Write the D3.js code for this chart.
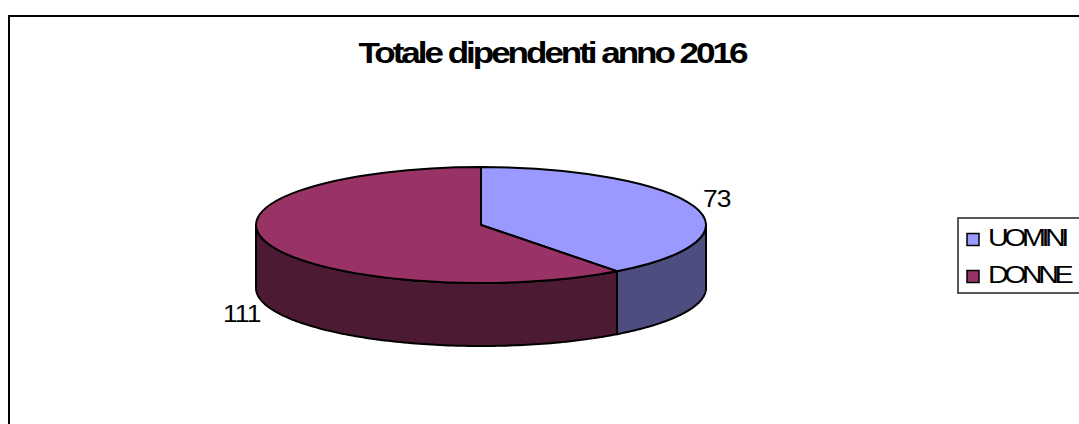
<!DOCTYPE html>
<html>
<head>
<meta charset="utf-8">
<script src="https://cdn.jsdelivr.net/npm/d3@7"></script>
<style>
  html, body { margin: 0; padding: 0; background: #fff; overflow: hidden; }
  text { font-family: "Liberation Sans", Arial, sans-serif; fill: #000; }
</style>
</head>
<body>
<div id="chart"></div>
<script>
const chartTitle = 'Totale dipendenti anno 2016';
const categories = ['UOMINI', 'DONNE'];
const values = [73, 111];
const topColors = ['#9999ff', '#993366'];
const sideColors = ['#4d4d80', '#4d1a33'];

const width = 1079, height = 424;
const cx = 481, cy = 225, rx = 225, ry = 58, depth = 63;

const svg = d3.select('#chart').append('svg')
  .attr('width', width)
  .attr('height', height)
  .style('display', 'block');

// Chart frame, runs off the right and bottom of the picture
svg.append('rect')
  .attr('x', 9)
  .attr('y', 16)
  .attr('width', width + 20)
  .attr('height', height + 20)
  .style('fill', '#fff')
  .style('stroke', '#000')
  .style('stroke-width', 2);

// The original text is stretched sideways and tightly spaced
svg.append('text')
  .attr('transform', 'translate(552,63) scale(1.17,1)')
  .style('text-anchor', 'middle')
  .style('font-size', '30px')
  .style('font-weight', 'bold')
  .style('letter-spacing', '-2.6px')
  .text(chartTitle);

const pie = d3.pie().sort(null)
  .startAngle(0)
  .endAngle(2 * Math.PI);
const slices = pie(values);

// point on the ellipse, angle measured clockwise from the top
const px = a => rx * Math.sin(a);
const py = a => -ry * Math.cos(a);

const line = d3.line().x(d => d[0]).y(d => d[1]);

const plot = svg.append('g').attr('transform', `translate(${cx},${cy})`);

// Outer wall: only the part of each slice facing the viewer
slices.forEach((s, i) => {
  const a0 = Math.max(s.startAngle, Math.PI / 2);
  const a1 = Math.min(s.endAngle, 3 * Math.PI / 2);
  if (a1 <= a0) return;
  const steps = d3.range(0, 121).map(k => a0 + (a1 - a0) * k / 120);
  const pts = steps.map(a => [px(a), py(a)])
    .concat(steps.slice().reverse().map(a => [px(a), py(a) + depth]));
  plot.append('path')
    .attr('d', line(pts) + 'Z')
    .style('fill', sideColors[i])
    .style('stroke', '#000')
    .style('stroke-width', 2)
    .style('stroke-linejoin', 'round');
});

// Top face, a normal d3 arc squashed into an ellipse
const arc = d3.arc().innerRadius(0).outerRadius(rx);
plot.append('g')
  .attr('transform', `scale(1,${ry / rx})`)
  .selectAll('path')
  .data(slices)
  .enter().append('path')
  .attr('d', arc)
  .attr('vector-effect', 'non-scaling-stroke')
  .style('fill', (d, i) => topColors[i])
  .style('stroke', '#000')
  .style('stroke-width', 2)
  .style('stroke-linejoin', 'round');

// Value labels
svg.append('text')
  .attr('transform', 'translate(703,207) scale(1.1,1)')
  .style('font-size', '24px')
  .style('letter-spacing', '-0.8px')
  .text(values[0]);

svg.append('text')
  .attr('transform', 'translate(223,322) scale(1.1,1)')
  .style('font-size', '24px')
  .style('letter-spacing', '-0.8px')
  .text(values[1]);

// Legend
const legend = svg.append('g');
legend.append('rect')
  .attr('x', 958)
  .attr('y', 218)
  .attr('width', 140)
  .attr('height', 75)
  .style('fill', '#fff')
  .style('stroke', '#222')
  .style('stroke-width', 1.5);

const legendY = d3.scalePoint().domain(categories).range([239.5, 276.5]);

legend.selectAll('.key')
  .data(categories)
  .enter().append('rect')
  .attr('class', 'key')
  .attr('x', 967)
  .attr('y', d => legendY(d) - 6)
  .attr('width', 12)
  .attr('height', 12)
  .style('fill', (d, i) => topColors[i])
  .style('stroke', '#000')
  .style('stroke-width', 1.5);

legend.selectAll('.label')
  .data(categories)
  .enter().append('text')
  .attr('class', 'label')
  .attr('transform', d => `translate(988,${legendY(d) + 6}) scale(1.25,1)`)
  .style('font-size', '23px')
  .style('letter-spacing', '-3.6px')
  .text(d => d);
</script>
</body>
</html>
